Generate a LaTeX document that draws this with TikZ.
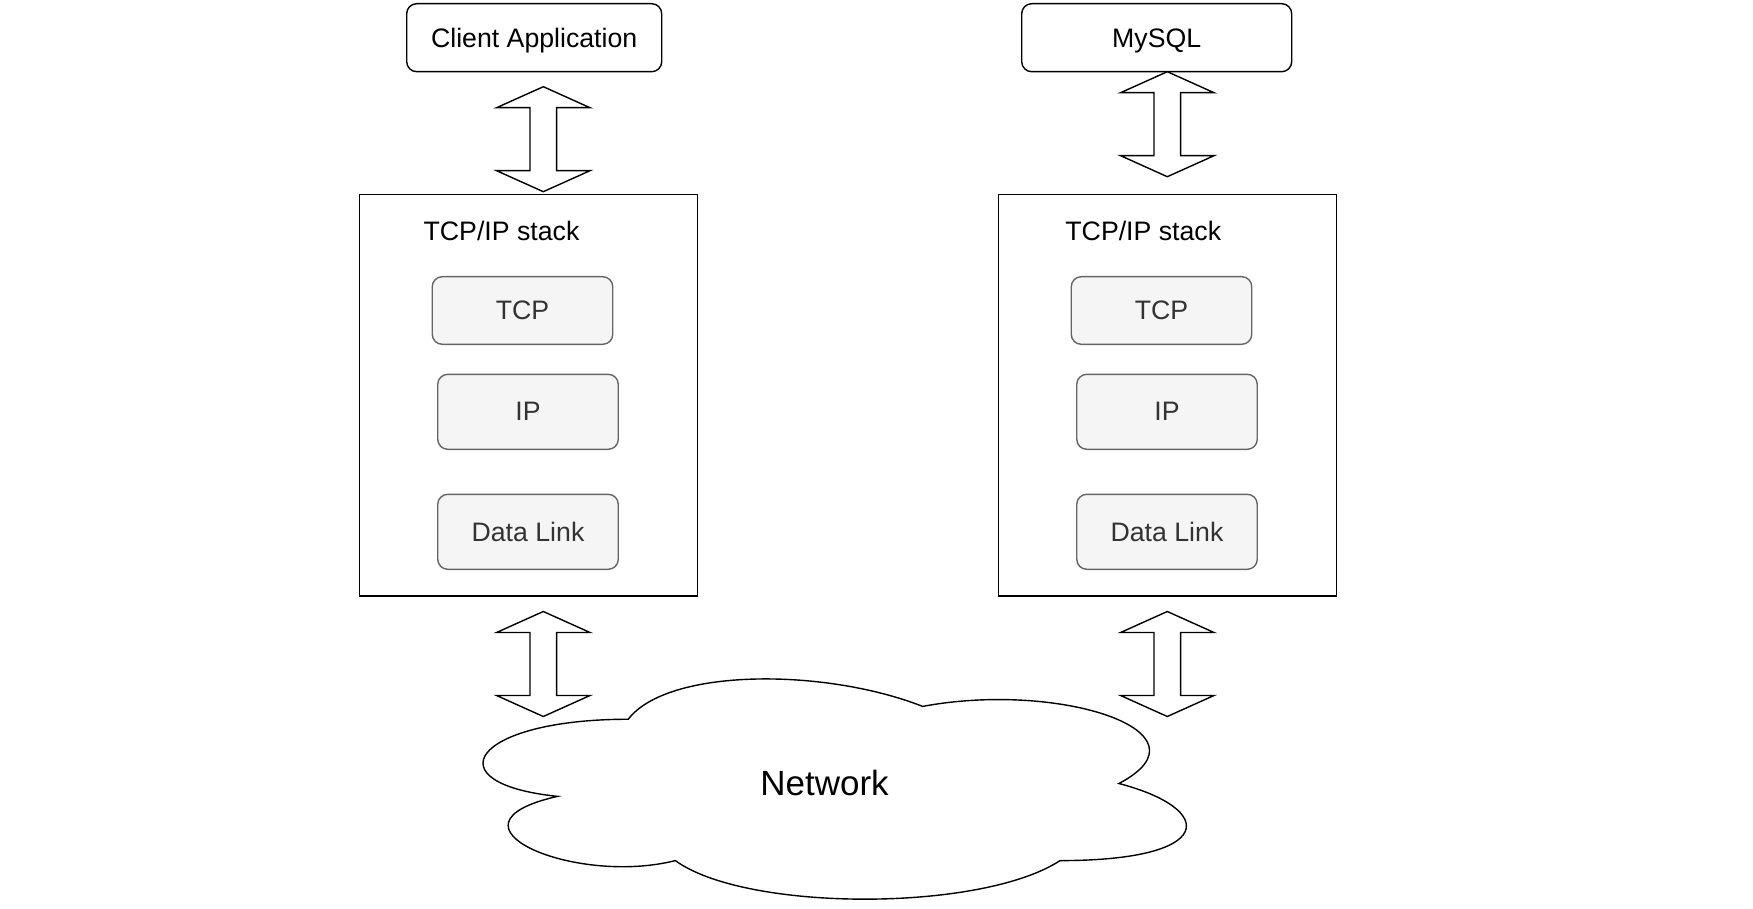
\documentclass[tikz,border=0pt]{standalone}
\usepackage{fontspec}
\setmainfont{Liberation Sans}
\definecolor{layerfill}{HTML}{F5F5F5}
\definecolor{layerdraw}{HTML}{666666}
\definecolor{layertext}{HTML}{333333}
\tikzset{
    appbox/.style={draw, line width=1.4pt, rounded corners=10pt, inner sep=0pt, text depth=0pt,
        font=\fontsize{26.7}{32}\selectfont},
    stackbox/.style={draw, line width=1.4pt, inner sep=0pt},
    layerbox/.style={draw=layerdraw, fill=layerfill, text=layertext, line width=1.4pt,
        rounded corners=10pt, inner sep=0pt, minimum width=180.5pt,
        font=\fontsize{26.7}{32}\selectfont},
    stacklabel/.style={anchor=base, inner sep=0pt, font=\fontsize{26.7}{32}\selectfont},
    arrowline/.style={draw, line width=1.4pt, fill=white, line join=miter},
    dblarrow/.pic={
        \draw[arrowline] (0,0) -- (46.7,21) -- (13.3,21) -- (13.3,84) -- (46.7,84)
            -- (0,105) -- (-46.7,84) -- (-13.3,84) -- (-13.3,21) -- (-46.7,21) -- cycle;
    }
}
\begin{document}
\begin{tikzpicture}[x=1pt, y=-1pt]
            \useasboundingbox (0,0) rectangle (1753,909);
            % applications
            \node[appbox, minimum width=255pt, minimum height=68pt] (client) at (534.2,37.7) {Client Application};
            \node[appbox, minimum width=270pt, minimum height=68pt] (mysql) at (1156.7,37.7) {MySQL};
            % left stack
            \begin{scope}
                \node[stackbox, minimum width=338.4pt, minimum height=401.7pt] (lstack) at (528.5,395.2) {};
                \node[stacklabel] (llabel) at (501.5,240.5) {TCP/IP stack};
                \node[layerbox, minimum height=67.6pt] (ltcp) at (522.5,310.5) {TCP};
                \node[layerbox, minimum height=75pt] (lip) at (528,411.8) {IP};
                \node[layerbox, minimum height=75pt] (llink) at (528,531.8) {Data Link};
            \end{scope}
            % right stack
            \begin{scope}[xshift=639pt]
                \node[stackbox, minimum width=338.4pt, minimum height=401.7pt] (rstack) at (528.5,395.2) {};
                \node[stacklabel] (rlabel) at (504.3,240.5) {TCP/IP stack};
                \node[layerbox, minimum height=67.6pt] (rtcp) at (522.5,310.5) {TCP};
                \node[layerbox, minimum height=75pt] (rip) at (528,411.8) {IP};
                \node[layerbox, minimum height=75pt] (rlink) at (528,531.8) {Data Link};
            \end{scope}
            % network cloud
            \begin{scope}[shift={(432pt,-655pt)}, x=7.85pt, y=-2.57pt]
                \draw[line width=1.4pt, fill=white] (25,25) .. controls (5,25) and (0,50) .. (16,55)
                    .. controls (0,66) and (18,90) .. (31,80)
                    .. controls (40,100) and (70,100) .. (80,80)
                    .. controls (100,80) and (100,60) .. (87.5,50)
                    .. controls (100,30) and (80,10) .. (62.5,20)
                    .. controls (50,5) and (30,5) .. (25,25) -- cycle;
            \end{scope}
            \node[inner sep=0pt, font=\fontsize{35}{42}\selectfont] (net) at (824.5,783) {Network};
            % double arrows
            \pic at (543.3,86.7) {dblarrow};
            \pic at (1167.3,71.7) {dblarrow};
            \pic at (543.3,611.5) {dblarrow};
            \pic at (1167.3,611.5) {dblarrow};
\end{tikzpicture}
\end{document}
